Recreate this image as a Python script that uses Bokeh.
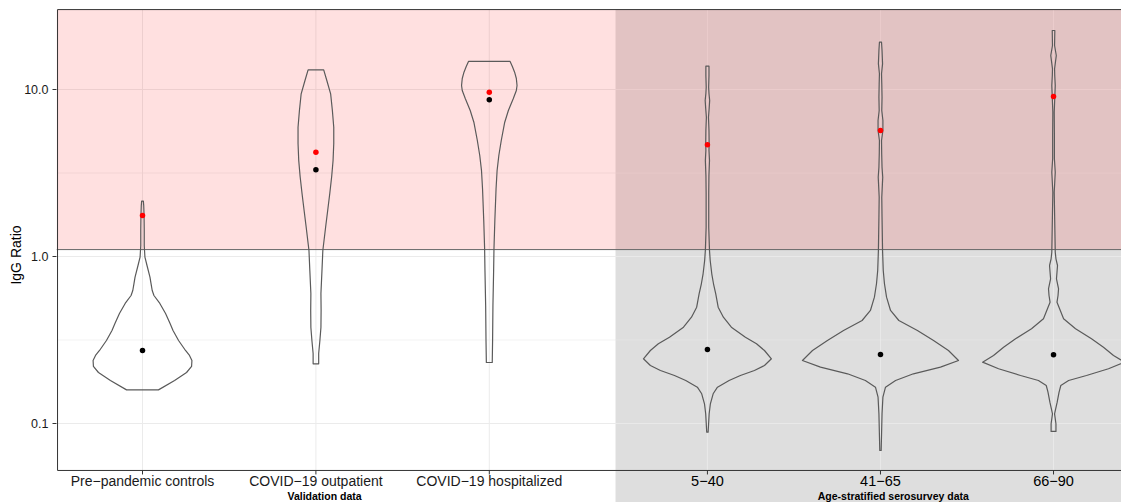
import math
from bokeh.plotting import figure
from bokeh.models import Range1d, FixedTicker, PrintfTickFormatter
from bokeh.core.properties import value
from bokeh.embed import file_html
from bokeh.resources import INLINE

# ---------------------------------------------------------------- data
groups = ["Pre\u2212pandemic controls", "COVID\u221219 outpatient", "COVID\u221219 hospitalized",
          "5\u221240", "41\u221265", "66\u221290"]
panel_titles = ["Validation data", "Age-stratified serosurvey data"]

# violin outlines: IgG ratio levels and density half-widths (in category slots)
pre_lvl = [0.159, 0.181, 0.202, 0.2195, 0.2383, 0.2554, 0.2736, 0.3141, 0.3605, 0.397, 0.4557, 0.5232,
           0.5841, 0.6258, 0.6894, 0.7516, 0.8833, 0.990, 1.164, 1.431, 1.760, 2.020, 2.144]
pre_w = [0.092, 0.185, 0.254, 0.283, 0.285, 0.271, 0.248, 0.208, 0.176, 0.159, 0.133, 0.100,
         0.066, 0.056, 0.049, 0.043, 0.026, 0.014, 0.010, 0.010, 0.009, 0.007, 0.005]

out_lvl = [0.2278, 0.2626, 0.3141, 0.3757, 0.475, 0.6006, 0.8245, 1.086, 1.497, 1.885, 2.384, 3.013,
           3.757, 4.75, 5.947, 7.486, 9.425, 11.32, 13.12]
out_w = [0.016, 0.016, 0.023, 0.029, 0.030, 0.029, 0.035, 0.040, 0.056, 0.068, 0.080, 0.091,
         0.099, 0.103, 0.103, 0.095, 0.085, 0.063, 0.045]

hosp_lvl = [0.2319, 0.3141, 0.5089, 0.8245, 1.117, 1.643, 2.543, 3.273, 4.025, 4.95, 6.371, 7.486,
            8.797, 9.863, 10.57, 11.64, 12.70, 13.73, 14.72]
hosp_w = [0.017, 0.019, 0.021, 0.025, 0.027, 0.032, 0.039, 0.045, 0.055, 0.069, 0.089, 0.110,
          0.138, 0.156, 0.160, 0.156, 0.146, 0.133, 0.120]

age1_lvl = [0.0887, 0.1143, 0.1312, 0.1506, 0.165, 0.1809, 0.1938, 0.2077, 0.2225, 0.244, 0.2736, 0.3001,
            0.3287, 0.3772, 0.433, 0.497, 0.5981, 0.6866, 0.788, 0.9464, 1.086, 1.497, 2.384, 3.055,
            3.757, 4.312, 4.73, 5.682, 6.827, 7.693, 8.594, 9.464, 10.32, 12.13, 13.79]
age1_w = [0.004, 0.010, 0.017, 0.033, 0.058, 0.125, 0.190, 0.271, 0.329, 0.369, 0.329, 0.283,
          0.219, 0.138, 0.092, 0.062, 0.048, 0.035, 0.025, 0.016, 0.012, 0.0075, 0.0075, 0.0087,
          0.012, 0.009, 0.010, 0.009, 0.006, 0.010, 0.013, 0.009, 0.007, 0.009, 0.009]

age2_lvl = [0.0689, 0.1143, 0.1437, 0.165, 0.1809, 0.1984, 0.2174, 0.2383, 0.2736, 0.3141, 0.3605, 0.4137,
            0.475, 0.5705, 0.6866, 0.8245, 1.086, 1.719, 2.265, 2.985, 3.425, 4.121, 4.95, 5.682,
            6.522, 7.486, 8.994, 10.82, 12.42, 14.25, 17.12, 19.20]
age2_w = [0.004, 0.009, 0.014, 0.029, 0.087, 0.190, 0.346, 0.450, 0.392, 0.306, 0.213, 0.106,
          0.058, 0.035, 0.023, 0.016, 0.012, 0.009, 0.0075, 0.013, 0.009, 0.007, 0.006, 0.014,
          0.014, 0.0075, 0.009, 0.0075, 0.006, 0.012, 0.009, 0.006]

age3_lvl = [0.0896, 0.0996, 0.1143, 0.1341, 0.154, 0.1689, 0.1809, 0.1938, 0.2126, 0.2329, 0.2554, 0.2863,
            0.3215, 0.3691, 0.4235, 0.4861, 0.5325, 0.5841, 0.6406, 0.7356, 0.8054, 0.8833, 0.9687, 1.061,
            1.842, 2.427, 3.198, 3.846, 5.302, 7.313, 9.08, 10.57, 12.13, 13.30, 15.98, 18.34, 22.56]
age3_w = [0.014, 0.014, 0.006, 0.021, 0.032, 0.042, 0.087, 0.190, 0.317, 0.409, 0.346, 0.288,
          0.219, 0.127, 0.058, 0.035, 0.020, 0.026, 0.029, 0.017, 0.020, 0.023, 0.014, 0.010,
          0.006, 0.004, 0.010, 0.005, 0.005, 0.004, 0.0075, 0.010, 0.007, 0.006, 0.016, 0.006, 0.0075]

medians = [0.274, 3.31, 8.68, 0.277, 0.259, 0.258]
means = [1.76, 4.21, 9.64, 4.67, 5.68, 9.08]

threshold = 1.1
y_ticks = [0.1, 1.0, 10.0]
y_minor = [10 ** -0.5, 10 ** 0.5]

levels = [pre_lvl, out_lvl, hosp_lvl, age1_lvl, age2_lvl, age3_lvl]
widths = [pre_w, out_w, hosp_w, age1_w, age2_w, age3_w]

# ---------------------------------------------------------------- layout
X_POS = [1.0, 2.0, 3.0, 4.258, 5.256, 6.254]      # slot positions of the six groups
TITLE_X = [2.05, 5.33]
SPLIT = 3.728                                     # start of the serosurvey panel
XL, XR = 0.504, 6.646
YB, YT = 0.03364, 30.98
PANEL_BOTTOM, PANEL_TOP = 0.05233, 30.1
PANEL_LEFT = 0.51
FRAME_H = 495
DEC_PER_PX = (math.log10(YT) - math.log10(YB)) / FRAME_H


def below_panel(px):
    """Data y that lies px screen pixels under the panel floor."""
    return 10 ** (math.log10(PANEL_BOTTOM) - px * DEC_PER_PX)


FONT = value("Liberation Sans")

p = figure(width=1121, height=502, output_backend="svg", toolbar_location=None,
           x_range=Range1d(XL, XR), y_range=Range1d(YB, YT), y_axis_type="log",
           x_axis_location=None, min_border_left=56, min_border_right=0,
           min_border_top=7, min_border_bottom=0)
p.grid.visible = False
p.outline_line_color = None
p.background_fill_color = "white"
p.border_fill_color = "white"

# y axis
ax = p.yaxis[0]
ax.ticker = FixedTicker(ticks=y_ticks, minor_ticks=[])
ax.formatter = PrintfTickFormatter(format="%.1f")
ax.axis_line_color = None
ax.major_tick_in = 0
ax.major_tick_out = 4
ax.minor_tick_in = 0
ax.minor_tick_out = 0
ax.major_tick_line_color = "#333333"
ax.major_label_text_font = "Liberation Sans"
ax.major_label_text_font_size = "12.5px"
ax.major_label_text_color = "#1a1a1a"
ax.major_label_standoff = 4
ax.axis_label = "IgG Ratio"
ax.axis_label_text_font = "Liberation Sans"
ax.axis_label_text_font_style = "normal"
ax.axis_label_text_font_size = "14px"
ax.axis_label_text_color = "black"
ax.axis_label_standoff = -3

# serosurvey panel background (reaches down under its axis labels)
p.quad(left=[SPLIT], right=[XR + 1], bottom=[YB / 2], top=[PANEL_TOP],
       fill_color="#dedede", line_color=None)

# grid lines, per panel
for x0, x1, col in [(PANEL_LEFT, SPLIT, "#ebebeb"), (SPLIT, XR + 1, "#e9e9e9")]:
    p.segment(x0=[x0] * len(y_ticks), x1=[x1] * len(y_ticks), y0=y_ticks, y1=y_ticks,
              line_color=col, line_width=1.0)
    p.segment(x0=[x0] * len(y_minor), x1=[x1] * len(y_minor), y0=y_minor, y1=y_minor,
              line_color=col, line_width=0.6)
for i, xc in enumerate(X_POS):
    col = "#ebebeb" if xc < SPLIT else "#e9e9e9"
    p.segment(x0=[xc], x1=[xc], y0=[PANEL_BOTTOM], y1=[PANEL_TOP], line_color=col, line_width=1.0)

# seropositive band above the threshold
p.quad(left=[XL], right=[XR + 1], bottom=[threshold], top=[PANEL_TOP],
       fill_color="red", fill_alpha=0.12, line_color=None)
p.segment(x0=[XL], x1=[XR + 1], y0=[threshold], y1=[threshold], line_color="#666666", line_width=1.0)

# violins
vx, vy = [], []
for xc, lv, w in zip(X_POS, levels, widths):
    vx.append([xc + a for a in w] + [xc - a for a in reversed(w)])
    vy.append(list(lv) + list(reversed(lv)))
p.patches(xs=vx, ys=vy, fill_color=None, line_color="#5a5a5a", line_width=1.2,
          line_join="round")

# medians (black) and means (red)
p.scatter(x=X_POS, y=medians, size=5.5, fill_color="black", line_color=None)
p.scatter(x=X_POS, y=means, size=5.5, fill_color="red", line_color=None)

# panel frame
p.segment(x0=[PANEL_LEFT, PANEL_LEFT, PANEL_LEFT], x1=[XR + 1, XR + 1, PANEL_LEFT],
          y0=[PANEL_TOP, PANEL_BOTTOM, PANEL_BOTTOM], y1=[PANEL_TOP, PANEL_BOTTOM, PANEL_TOP],
          line_color="#333333", line_width=1.0)

# category ticks and labels
p.segment(x0=X_POS, x1=X_POS, y0=[PANEL_BOTTOM] * 6, y1=[below_panel(4)] * 6,
          line_color="#333333", line_width=1.0)
p.text(x=X_POS[:3], y=[below_panel(11)] * 3, text=groups[:3], text_font=FONT,
       text_font_size="14px", text_color="#1a1a1a", text_align="center", text_baseline="middle")
p.text(x=X_POS[3:], y=[below_panel(11)] * 3, text=groups[3:], text_font=FONT,
       text_font_size="14.5px", text_color="black", text_align="center", text_baseline="middle")
p.text(x=TITLE_X, y=[below_panel(26)] * 2, text=panel_titles, text_font=FONT,
       text_font_size="10.5px", text_font_style="bold", text_color="black",
       text_align="center", text_baseline="middle")

open("out.html", "w").write(file_html(p, INLINE))
